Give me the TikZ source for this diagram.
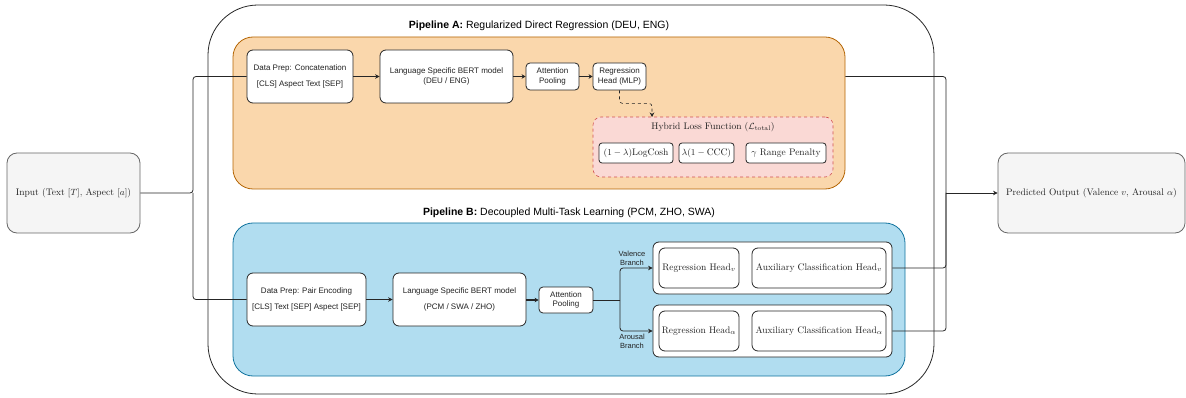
\documentclass[tikz,border=0pt]{standalone}
\usepackage{fontspec}
\setsansfont{Liberation Sans}
\usetikzlibrary{arrows.meta}
\definecolor{orfill}{HTML}{FAD7AC}
\definecolor{ordraw}{HTML}{B46504}
\definecolor{blfill}{HTML}{B1DDF0}
\definecolor{bldraw}{HTML}{10739E}
\definecolor{pkfill}{HTML}{FAD9D5}
\definecolor{pkdraw}{HTML}{D05050}
\definecolor{gyfill}{HTML}{F5F5F5}
\definecolor{gydraw}{HTML}{666666}
\definecolor{txt}{HTML}{222222}
\tikzset{
  sbox/.style={draw=black!85, fill=white, line width=0.8pt, rounded corners=6pt, inner sep=0pt,
     font=\sffamily\fontsize{8}{9.5}\selectfont, text=txt, align=center},
  mbox/.style={draw=black!85, fill=white, line width=0.8pt, rounded corners=5pt, inner sep=0pt,
     font=\fontsize{9.5}{11}\selectfont, text=txt, align=center},
  iobox/.style={draw=gydraw, fill=gyfill, line width=0.8pt, rounded corners=10pt, inner sep=0pt,
     font=\fontsize{9.5}{11}\selectfont, text=txt},
  cont/.style={line width=0.8pt, inner sep=0pt, rounded corners=20pt},
  ttl/.style={font=\sffamily\fontsize{10.5}{12}\selectfont, text=black, inner sep=0pt},
  lbl/.style={font=\sffamily\fontsize{7.5}{9}\selectfont, text=txt, align=center, inner sep=0pt},
  conn/.style={line width=0.8pt, draw=black!85, rounded corners=3pt},
  arr/.style={conn, -{Stealth[length=4.5pt,width=4.5pt]}},
  tarr/.style={arr, line width=1.4pt, -{Stealth[length=4pt,width=4.5pt]}},
}
\begin{document}
\begin{tikzpicture}[x=1pt,y=-1pt]
\useasboundingbox (0,0) rectangle (1186,398);
% outer container
\node[draw=black!85, line width=0.8pt, rounded corners=50pt, minimum width=726pt, minimum height=389pt, inner sep=0pt] (outer) at (571,199.5) {};
% pipeline containers
\node[cont, draw=ordraw, fill=orfill, minimum width=612pt, minimum height=152pt] (pipeA) at (539,113) {};
\node[cont, draw=bldraw, fill=blfill, minimum width=672pt, minimum height=153pt] (pipeB) at (569,299.5) {};
\node[ttl] (tA) at (539,26) {\textbf{Pipeline A:} Regularized Direct Regression (DEU, ENG)};
\node[ttl] (tB) at (569,213) {\textbf{Pipeline B:} Decoupled Multi-Task Learning (PCM, ZHO, SWA)};
% io
\node[iobox, minimum width=133pt, minimum height=80pt] (in) at (73.5,193) {Input (Text $[T]$, Aspect $[a]$)};
\node[iobox, minimum width=187pt, minimum height=80pt] (out) at (1091.5,193) {Predicted Output (Valence $v$, Arousal $\alpha$)};
% pipeline A
\node[sbox, minimum width=106pt, minimum height=53pt] (dpA) at (300,76.5) {Data Prep: Concatenation\\[7pt][CLS] Aspect Text [SEP]};
\node[sbox, minimum width=133pt, minimum height=53pt] (bertA) at (446.5,76.5) {Language Specific BERT model\\(DEU / ENG)};
\node[sbox, rounded corners=4pt, minimum width=53pt, minimum height=27pt] (attA) at (552.5,76.5) {Attention\\Pooling};
\node[sbox, rounded corners=4pt, minimum width=53pt, minimum height=27pt] (regA) at (619.5,76.5) {Regression\\Head (MLP)};
\node[draw=pkdraw, fill=pkfill, dashed, line width=0.6pt, rounded corners=8pt, minimum width=240pt, minimum height=60pt, inner sep=0pt] (loss) at (713,147) {};
\node[font=\fontsize{9.5}{11}\selectfont, text=txt, inner sep=0pt] (lossT) at (713,127) {Hybrid Loss Function ($\mathcal{L}_{\mathrm{total}}$)};
\node[mbox, rounded corners=3pt, minimum width=74pt, minimum height=20pt] (l1) at (636,153) {$(1-\lambda)\mathrm{LogCosh}$};
\node[mbox, rounded corners=3pt, minimum width=55pt, minimum height=20pt] (l2) at (706.5,153) {$\lambda(1-\mathrm{CCC})$};
\node[mbox, rounded corners=3pt, minimum width=80pt, minimum height=20pt] (l3) at (786,153) {$\gamma$ Range Penalty};
\coordinate (lt) at (652,117);
% pipeline B
\node[sbox, minimum width=119pt, minimum height=53pt] (dpB) at (306.5,299.5) {Data Prep: Pair Encoding\\[7pt][CLS] Text [SEP] Aspect [SEP]};
\node[sbox, minimum width=133pt, minimum height=53pt] (bertB) at (459.5,299.5) {Language Specific BERT model\\[7pt](PCM / SWA / ZHO)};
\node[sbox, rounded corners=4pt, minimum width=54pt, minimum height=26pt] (attB) at (566,300) {Attention\\Pooling};
\node[mbox, rounded corners=6pt, minimum width=239pt, minimum height=52pt] (vh) at (772.5,268) {};
\node[mbox, rounded corners=6pt, minimum width=239pt, minimum height=52pt] (ah) at (772.5,331) {};
\node[mbox, rounded corners=6pt, minimum width=80pt, minimum height=40pt] (rv) at (699,268) {Regression Head$_v$};
\node[mbox, rounded corners=6pt, minimum width=134pt, minimum height=40pt] (cv) at (819,268) {Auxiliary Classification Head$_v$};
\node[mbox, rounded corners=6pt, minimum width=80pt, minimum height=40pt] (ra) at (699,331) {Regression Head$_\alpha$};
\node[mbox, rounded corners=6pt, minimum width=134pt, minimum height=40pt] (ca) at (819,331) {Auxiliary Classification Head$_\alpha$};
\node[lbl] (lv) at (632,258) {Valence\\Branch};
\node[lbl] (la) at (632,341.5) {Arousal\\Branch};
\coordinate (split) at (620,300);
\coordinate (fork) at (193,193);
\coordinate (join) at (946,193);
% connectors
\draw[conn] (in.east) -- (fork) |- (dpA.west);
\draw[conn] (fork) |- (dpB.west);
\draw[arr] (dpA) -- (bertA);
\draw[tarr] (bertA) -- (attA);
\draw[tarr] (attA) -- (regA);
\draw[arr, dashed, line width=0.6pt] (regA.south) -- ++(0,13) -| (lt);
\draw[arr] (dpB) -- (bertB);
\draw[tarr] (bertB.east |- attB) -- (attB);
\draw[conn] (attB.east) -- (split);
\draw[arr] (split) |- (vh.west);
\draw[arr] (split) |- (ah.west);
\draw[conn] (pipeA.east |- dpA) -| (join);
\draw[conn] (vh.east) -| (join);
\draw[conn] (ah.east) -| (join);
\draw[arr] (join) -- (out.west);
\end{tikzpicture}
\end{document}
